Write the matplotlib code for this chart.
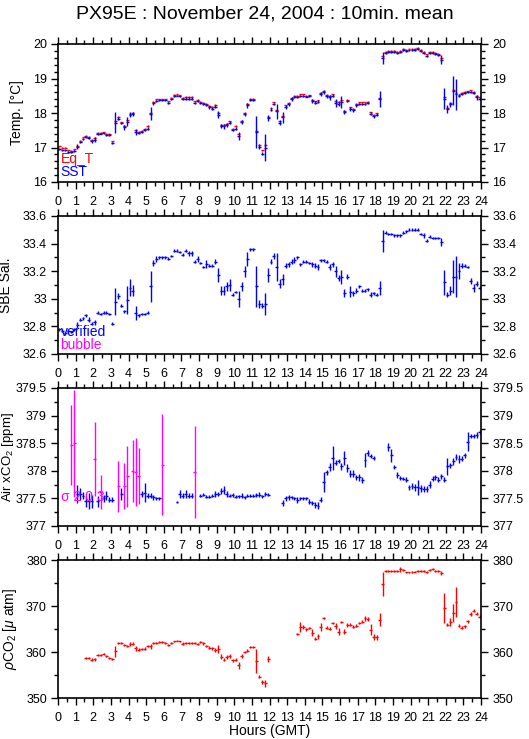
import numpy as np
import matplotlib
matplotlib.use('Agg')
import matplotlib.pyplot as plt
from matplotlib.ticker import MultipleLocator, FuncFormatter

plt.rcParams['font.family'] = ['Liberation Sans', 'DejaVu Sans']
plt.rcParams['mathtext.fontset'] = 'custom'
plt.rcParams['mathtext.rm'] = 'Liberation Sans'
plt.rcParams['mathtext.it'] = 'Liberation Sans:italic'

nan = np.nan

# 10 minute bins, one row = 2 hours
eq_t = [
    17.03, 17.00, 16.99, 16.92, 16.90, 16.95, 17.05, 17.20, 17.29, 17.34, 17.30, 17.22,
    17.27, 17.43, 17.42, 17.44, 17.40, 17.39, 17.18, 17.76, 17.88, 17.73, 17.62, 17.79,
    17.98, 18.00, 17.50, 17.46, 17.48, 17.55, 17.62, 18.01, 18.32, 18.40, 18.40, 18.40,
    18.40, 18.34, 18.43, 18.52, 18.54, 18.51, 18.44, 18.46, 18.46, 18.46, 18.34, 18.38,
    18.33, 18.30, 18.26, 18.20, 18.17, 18.23, 18.00, 17.66, 17.65, 17.69, 17.76, 17.54,
    17.62, 17.40, 17.78, 18.00, 18.26, 18.41, 18.41, 17.48, 17.06, 16.92, 17.07, 17.88,
    18.14, 18.31, 18.09, 17.76, 17.92, 18.22, 18.29, 18.44, 18.50, 18.50, 18.54, 18.54,
    18.50, 18.51, 18.39, 18.34, 18.37, 18.59, 18.64, 18.52, 18.49, 18.54, 18.34, 18.31,
    18.37, 18.06, 18.39, 18.16, 18.12, 18.26, 18.31, 18.31, 18.31, 18.32, 18.02, 17.95,
    17.99, 18.43, 19.64, 19.78, 19.80, 19.80, 19.80, 19.78, 19.81, 19.85, 19.83, 19.85,
    19.86, 19.86, 19.88, 19.83, 19.78, 19.70, 19.78, 19.78, 19.75, 19.71, 19.58, 18.46,
    18.15, 18.28, 18.68, 18.58, 18.53, 18.58, 18.61, 18.63, 18.66, 18.61, 18.50, 18.45,
]

sst = [
    16.95, 16.93, 16.92, 16.88, 16.86, 16.90, 17.02, 17.17, 17.25, 17.31, 17.27, 17.18,
    17.22, 17.38, 17.40, 17.41, 17.36, 17.35, 17.14, 17.72, 17.84, 17.70, 17.58, 17.75,
    17.95, 17.97, 17.46, 17.42, 17.45, 17.52, 17.55, 17.98, 18.28, 18.36, 18.37, 18.37,
    18.37, 18.30, 18.40, 18.48, 18.50, 18.48, 18.40, 18.42, 18.42, 18.42, 18.30, 18.35,
    18.30, 18.26, 18.22, 18.16, 18.13, 18.18, 17.95, 17.62, 17.61, 17.65, 17.72, 17.50,
    17.55, 17.34, 17.73, 17.96, 18.22, 18.37, 18.37, 17.45, 17.02, 16.82, 17.00, 17.85,
    18.10, 18.27, 18.05, 17.72, 17.87, 18.18, 18.25, 18.40, 18.46, 18.47, 18.50, 18.50,
    18.47, 18.48, 18.35, 18.30, 18.33, 18.55, 18.60, 18.48, 18.45, 18.50, 18.30, 18.27,
    18.32, 18.02, 18.35, 18.12, 18.08, 18.22, 18.27, 18.27, 18.27, 18.28, 17.98, 17.90,
    17.95, 18.40, 19.60, 19.75, 19.77, 19.77, 19.77, 19.75, 19.78, 19.82, 19.80, 19.82,
    19.83, 19.83, 19.85, 19.80, 19.75, 19.65, 19.75, 19.75, 19.72, 19.68, 19.55, 18.42,
    18.12, 18.25, 18.65, 18.55, 18.50, 18.55, 18.58, 18.60, 18.62, 18.58, 18.45, 18.42,
]

sst_err = [
    .03, .02, .02, .03, .03, .03, .07, .03, .03, .03, .03, .04,
    .07, .03, .02, .02, .03, .03, .03, .30, .05, .03, .06, .12,
    .08, .06, .09, .03, .03, .03, .03, .18, .04, .03, .02, .02,
    .02, .03, .03, .03, .02, .02, .03, .03, .03, .03, .03, .03,
    .03, .03, .03, .03, .03, .04, .10, .06, .07, .06, .05, .03,
    .03, .12, .06, .05, .08, .03, .03, .45, .07, .05, .40, .08,
    .05, .03, .22, .08, .17, .05, .04, .05, .03, .03, .03, .03,
    .02, .03, .05, .05, .05, .05, .04, .05, .06, .04, .12, .08,
    .18, .06, .04, .06, .05, .05, .03, .03, .03, .03, .04, .04,
    .04, .23, .18, .03, .02, .02, .02, .03, .03, .03, .02, .02,
    .02, .02, .02, .02, .03, .04, .03, .03, .03, .03, .12, .30,
    .12, .08, .42, .45, .05, .04, .04, .03, .03, .03, .08, .04,
]

sal = [
    32.78, 32.77, 32.75, 32.77, 32.76, 32.78, 32.81, 32.85, 32.86, 32.88, 32.85, 32.82,
    32.83, 32.90, 32.89, 32.90, 32.90, 32.89, 32.82, 32.98, 33.02, 32.95, 32.91, 32.99,
    33.08, 33.06, 32.90, 32.88, 32.89, 32.89, 32.90, 33.09, 33.26, 33.29, 33.30, 33.30,
    33.30, 33.29, 33.31, 33.35, 33.35, 33.34, 33.32, 33.35, 33.33, 33.33, 33.27, 33.29,
    33.26, 33.23, 33.25, 33.24, 33.24, 33.27, 33.17, 33.06, 33.06, 33.09, 33.10, 33.03,
    33.05, 33.00, 33.09, 33.20, 33.29, 33.36, 33.36, 33.09, 32.96, 32.95, 32.96, 33.17,
    33.27, 33.31, 33.23, 33.11, 33.14, 33.24, 33.25, 33.27, 33.28, 33.30, 33.25, 33.27,
    33.27, 33.26, 33.25, 33.24, 33.23, 33.28, 33.28, 33.27, 33.23, 33.25, 33.20, 33.15,
    33.16, 33.04, 33.16, 33.05, 33.04, 33.06, 33.09, 33.06, 33.06, 33.07, 33.03, 33.04,
    33.03, 33.08, 33.42, 33.48, 33.47, 33.47, 33.46, 33.46, 33.46, 33.48, 33.49, 33.50,
    33.50, 33.50, 33.50, 33.47, 33.46, 33.42, 33.45, 33.44, 33.44, 33.44, 33.41, 33.12,
    33.03, 33.06, 33.16, 33.16, 33.20, 33.24, 33.24, 33.23, 33.13, 33.08, 33.11, 33.08,
]

sal_err = [
    .01, .01, .01, .01, .01, .01, .02, .01, .01, .01, .02, .01,
    .02, .01, .01, .01, .01, .01, .01, .10, .02, .01, .01, .10,
    .06, .04, .05, .01, .01, .01, .01, .11, .02, .02, .01, .01,
    .01, .01, .01, .01, .01, .01, .01, .01, .02, .02, .01, .02,
    .01, .01, .03, .01, .01, .02, .05, .03, .03, .03, .04, .01,
    .01, .06, .03, .04, .05, .01, .01, .15, .03, .02, .08, .05,
    .02, .02, .10, .03, .04, .02, .02, .02, .02, .01, .01, .01,
    .01, .01, .02, .02, .02, .01, .01, .01, .02, .02, .04, .02,
    .05, .03, .02, .04, .02, .02, .01, .01, .01, .01, .02, .01,
    .01, .05, .08, .01, .01, .01, .01, .01, .01, .01, .01, .01,
    .01, .01, .01, .01, .02, .01, .01, .01, .01, .01, .03, .09,
    .02, .03, .12, .15, .06, .02, .01, .01, .02, .03, .02, .01,
]

air = [
    nan, nan, nan, nan, 378.47, 378.50, 377.58, 377.58, 377.55, 377.45, 377.45, 377.45,
    378.22, 377.45, 377.62, 377.50, 377.55, 377.48, 377.48, nan, 377.72, 377.58, 377.72, 377.90,
    nan, 378.00, 377.98, 377.90, 377.58, 377.60, 377.55, 377.55, 377.52, 377.50, 377.50, 378.11,
    nan, nan, nan, nan, 377.43, 377.58, 377.55, 377.58, 377.55, 377.55, 377.98, nan,
    377.55, 377.57, 377.53, 377.53, 377.55, 377.58, 377.58, 377.63, 377.65, 377.58, 377.55, 377.56,
    377.53, 377.54, 377.55, 377.52, 377.55, 377.55, 377.55, 377.56, 377.57, 377.54, 377.58, 377.57,
    nan, nan, nan, nan, 377.42, 377.50, 377.52, 377.52, 377.50, 377.47, 377.50, 377.50,
    377.50, 377.44, 377.42, 377.38, 377.37, 377.48, 377.80, 377.97, 378.07, 378.23, 378.15, 378.18,
    378.08, 378.23, 378.05, 377.95, 377.95, 377.88, 377.88, 377.83, 378.20, 378.32, 378.27, 378.23,
    nan, nan, nan, nan, 378.43, 378.28, 378.07, 377.92, 377.87, 377.86, 377.84, 377.70,
    377.72, 377.70, 377.70, 377.68, 377.67, 377.67, 377.75, 377.86, 377.88, 377.84, 377.90, 377.84,
    378.08, 378.10, 378.17, 378.25, 378.22, 378.22, 378.28, 378.53, 378.63, 378.63, 378.65, 378.70,
]

air_err = [
    0, 0, 0, 0, .72, .97, .17, .10, .06, .10, .15, .12,
    .67, .10, .31, .06, .08, .05, .05, 0, .46, .10, .42, .55,
    0, .56, .61, .51, .05, .17, .05, .05, .04, .03, .03, .91,
    0, 0, 0, 0, .02, .08, .05, .07, .05, .05, .83, 0,
    .03, .03, .03, .03, .03, .05, .04, .05, .07, .05, .03, .03,
    .03, .03, .04, .03, .03, .03, .03, .03, .04, .03, .03, .03,
    0, 0, 0, 0, .05, .04, .04, .03, .03, .05, .03, .03,
    .03, .05, .04, .06, .07, .05, .18, .05, .07, .22, .05, .04,
    .06, .12, .07, .07, .06, .05, .06, .06, .13, .05, .04, .04,
    0, 0, 0, 0, .07, .12, .03, .05, .03, .03, .04, .05,
    .05, .06, .14, .06, .05, .06, .07, .04, .05, .05, .05, .05,
    .16, .05, .06, .06, .07, .05, .05, .17, .04, .04, .05, .04,
]

pco2 = [
    nan, nan, nan, nan, nan, nan, nan, nan, nan, 358.7, 358.7, 358.3,
    358.4, 359.3, 359.3, 359.5, 359.1, 358.7, 358.4, 360.2, 362.0, 362.0, 361.5, 361.3,
    361.7, 361.8, 360.8, 360.5, 360.7, 360.7, 361.3, 361.2, 361.9, 362.0, 362.2, 362.1,
    362.0, 361.6, 362.0, 362.3, 362.5, 362.3, 361.8, 361.9, 361.9, 362.0, 362.0, 361.8,
    362.1, 361.9, 361.3, 360.9, 360.8, 360.4, 360.6, 359.0, 358.3, 358.9, 359.2, 358.2,
    358.3, 357.1, 359.1, 360.0, 360.3, 361.1, 361.1, 358.0, 354.6, 353.5, 353.2, 358.5,
    nan, nan, nan, nan, nan, nan, nan, nan, nan, 363.9, 365.4, 365.4,
    364.9, 365.2, 364.2, 362.9, 363.4, 365.5, 367.4, 365.3, 365.1, 366.3, 365.6, 364.4,
    366.5, 364.4, 365.9, 365.9, 365.5, 365.7, 366.3, 366.6, 367.3, 367.2, 364.8, 363.3,
    363.2, 367.0, 374.8, 377.6, 377.6, 377.7, 377.6, 377.6, 378.0, 377.8, 377.3, 377.3,
    377.4, 377.5, 377.6, 377.6, 377.7, 377.4, 377.8, 378.0, 377.7, 377.6, 377.2, 369.5,
    365.9, 366.5, 368.5, 370.9, 365.7, 365.3, 365.6, 366.7, 368.3, 369.0, 368.3, 367.7,
]

pco2_err = [
    0, 0, 0, 0, 0, 0, 0, 0, 0, .2, .2, .3,
    .3, .2, .2, .2, .2, .3, .2, 1.2, .2, .2, .3, .3,
    .4, .3, .6, .3, .2, .3, .3, .5, .2, .2, .2, .2,
    .2, .2, .2, .2, .2, .2, .3, .2, .2, .2, .2, .2,
    .2, .3, .3, .3, .3, .4, .9, .5, .3, .4, .4, .3,
    .3, .8, .5, .3, .3, .2, .2, 2.6, .3, .5, .7, .7,
    0, 0, 0, 0, 0, 0, 0, 0, 0, .2, 1.1, .4,
    .3, .3, .8, .3, .6, .9, .3, .4, .3, .3, .6, .8,
    .3, .5, .4, .3, .3, .3, .3, .3, .5, .4, 1.2, .6,
    .6, 1.4, 2.6, .2, .2, .2, .2, .2, .5, .2, .2, .2,
    .2, .2, .2, .2, .2, .2, .2, .2, .2, .2, .5, 3.3,
    .3, .8, 2.0, 3.2, .3, .3, .3, .3, .5, .3, .3, .3,
]

hours = np.arange(144) / 6.0 + 1.0 / 12.0
half_bin = 1.0 / 12.0

W, H = 529, 739
fig = plt.figure(figsize=(W / 100, H / 100), dpi=100)

def px_axes(top):
    # left 58px, right 481px, height 138px
    return fig.add_axes([58 / W, (H - top - 138) / H, 423 / W, 138 / H])

ax1 = px_axes(44)
ax2 = px_axes(216)
ax3 = px_axes(388)
ax4 = px_axes(560)

fmt_g = FuncFormatter(lambda v, p: '%g' % round(v, 3))

def style(ax, ylim, major, minor, ylabel, labx):
    ax.set_xlim(0, 24)
    ax.set_ylim(*ylim)
    ax.xaxis.set_major_locator(MultipleLocator(1))
    ax.xaxis.set_minor_locator(MultipleLocator(0.5))
    ax.yaxis.set_major_locator(MultipleLocator(major))
    ax.yaxis.set_minor_locator(MultipleLocator(minor))
    ax.yaxis.set_major_formatter(fmt_g)
    ax.tick_params(which='both', direction='out', top=True, right=True,
                   labelright=True, labelsize=9, width=1.0, pad=3)
    ax.tick_params(which='major', length=5)
    ax.tick_params(which='minor', length=3)
    ax.tick_params(axis='x', pad=5)
    for s in ax.spines.values():
        s.set_linewidth(1.2)
    ax.set_ylabel(ylabel, fontsize=10)
    ax.yaxis.set_label_coords(labx, 0.5)

def bars(ax, y, err, color, lw=1.0):
    ax.errorbar(hours, y, yerr=err, xerr=half_bin, fmt='none',
                ecolor=color, elinewidth=lw, capsize=0)

# panel 1: temperatures
eq_err = [0.02] * len(eq_t)
bars(ax1, eq_t, eq_err, 'red')
bars(ax1, sst, sst_err, 'blue')
style(ax1, (16, 20), 1, 0.2, 'Temp. [°C]', -0.080)
ax1.text(0.006, 0.167, 'Eq_T', color='red', fontsize=10, transform=ax1.transAxes, va='center')
ax1.text(0.006, 0.072, 'SST', color='blue', fontsize=10, transform=ax1.transAxes, va='center')

# panel 2: salinity
bars(ax2, sal, sal_err, 'blue')
style(ax2, (32.6, 33.6), 0.2, 0.1, 'SBE Sal.', -0.106)
ax2.text(0.006, 0.16, 'verified', color='blue', fontsize=10, transform=ax2.transAxes, va='center')
ax2.text(0.006, 0.065, 'bubble', color='magenta', fontsize=10, transform=ax2.transAxes, va='center')

# panel 3: air xCO2, sigma >= 0.3 in magenta
air_a = np.array(air)
air_e = np.array(air_err)
big = air_e >= 0.3
ax3.errorbar(hours[~big], air_a[~big], yerr=air_e[~big], xerr=half_bin, fmt='none',
             ecolor='blue', elinewidth=1.0, capsize=0)
ax3.errorbar(hours[big], air_a[big], yerr=air_e[big], xerr=half_bin, fmt='none',
             ecolor='magenta', elinewidth=1.0, capsize=0)
style(ax3, (377, 379.5), 0.5, 0.25, 'Air xCO$_2$ [ppm]', -0.100)
ax3.yaxis.label.set_fontsize(9.5)
ax3.text(0.006, 0.21, 'σ 2 0 3', color='magenta', fontsize=10, transform=ax3.transAxes, va='center')

# panel 4: pCO2
bars(ax4, pco2, pco2_err, 'red')
style(ax4, (350, 380), 10, 5, r'$\rho$CO$_2$ [$\mu$ atm]', -0.092)
ax4.set_xlabel('Hours (GMT)', fontsize=10, labelpad=0)

fig.text(0.5, 0.981, 'PX95E : November 24, 2004 : 10min. mean', ha='center',
         va='center', fontsize=14)

fig.savefig('out.png', dpi=100)
